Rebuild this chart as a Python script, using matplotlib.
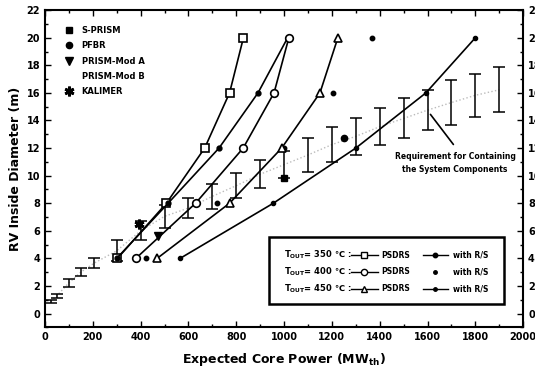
import numpy as np
import matplotlib
matplotlib.use('Agg')
import matplotlib.pyplot as plt
from matplotlib.lines import Line2D
from matplotlib.patches import Rectangle

plt.rcParams['font.family'] = ['DejaVu Sans']
plt.rcParams['font.weight'] = 'bold'
plt.rcParams['mathtext.default'] = 'bf'

# RV inside diameter (m) at which the curves are evaluated
dia = [4, 8, 12, 16, 20]

# expected core power (MWt) for each outlet temperature
p350_psdrs = [303, 508, 668, 772, 830]
p350_rs = [300, 515, 728, 891, 1015]
p400_psdrs = [380, 630, 829, 958, 1020]
p400_rs = [423, 718, 998, 1205, 1368]
p450_psdrs = [469, 772, 990, 1150, 1225]
p450_rs = [565, 955, 1300, 1593, 1800]

# requirement for containing the system components (ranges)
req_power = [25, 50, 100, 150, 205, 300, 400, 500, 600, 700, 800, 900, 1000,
             1100, 1200, 1300, 1400, 1500, 1600, 1700, 1800, 1900]
req_low = [0.75, 1.15, 1.95, 2.7, 3.3, 3.8, 5.3, 6.2, 6.9, 7.6, 8.35, 9.1, 9.8,
           10.3, 11.0, 11.5, 12.2, 12.7, 13.3, 13.7, 14.25, 14.6]
req_high = [1.0, 1.45, 2.5, 3.3, 4.0, 5.3, 6.7, 7.9, 8.4, 9.4, 10.2, 11.1, 11.8,
            12.7, 13.5, 14.2, 14.9, 15.6, 16.2, 16.9, 17.4, 17.85]

# existing reactor designs
reactors = ['S-PRISM', 'PFBR', 'PRISM-Mod A', 'PRISM-Mod B', 'KALIMER']
reactor_power = [1000, 1250, 471, np.nan, 395]
reactor_dia = [9.8, 12.7, 5.6, np.nan, 6.5]
reactor_marker = ['s', 'o', 'v', 'None', (6, 2, 0)]
reactor_ms = [5, 4.5, 6, 0, 7]

fig = plt.figure(figsize=(5.35, 3.75), dpi=100)
ax = fig.add_axes([0.084, 0.127, 0.894, 0.846])

lo = np.array(req_low)
hi = np.array(req_high)
mid = (lo + hi) / 2
ax.plot(req_power, mid, ':', color='#bbbbbb', lw=1, zorder=1)
ax.errorbar(req_power, mid, yerr=[mid - lo, hi - mid], fmt='none', ecolor='k',
            elinewidth=1.1, capsize=4.5, capthick=1.1, zorder=2)

k = dict(color='k', lw=1.2, zorder=3)
ax.plot(p350_psdrs, dia, marker='s', ms=5.5, mfc='white', mec='k', mew=1.2, **k)
ax.plot(p350_rs, dia, marker='o', ms=3.5, mfc='k', mec='k', **k)
ax.plot(p400_psdrs, dia, marker='o', ms=5.5, mfc='white', mec='k', mew=1.2, **k)
ax.plot(p400_rs, dia, ls='None', marker='o', ms=3.2, color='k', zorder=3)
ax.plot(p450_psdrs, dia, marker='^', ms=6, mfc='white', mec='k', mew=1.2, **k)
ax.plot(p450_rs, dia, marker='o', ms=3, mfc='k', mec='k', **k)

handles = []
for i in range(len(reactors)):
    ax.plot(reactor_power[i], reactor_dia[i], ls='None', marker=reactor_marker[i],
            ms=reactor_ms[i], color='k', mew=2 if i == 4 else 1, zorder=4)
    handles.append(Line2D([], [], ls='None', marker=reactor_marker[i],
                          ms=reactor_ms[i], color='k', mew=2 if i == 4 else 1))
ax.legend(handles, reactors, loc='upper left', bbox_to_anchor=(0.035, 0.96),
          frameon=False, fontsize=6, handlelength=1, handletextpad=1.0,
          labelspacing=0.75, borderaxespad=0)

# annotation
ax.annotate('', xy=(1605, 14.6), xytext=(1715, 12.1),
            arrowprops=dict(arrowstyle='-', color='k', lw=1.2))
ax.text(1715, 10.9, 'Requirement for Containing\nthe System Components',
        fontsize=5.5, fontweight='bold', ha='center', va='center', linespacing=1.5)

# framed legend for the curves
ax.add_patch(Rectangle((0.469, 0.075), 0.49, 0.21, transform=ax.transAxes,
                       fill=False, lw=1.8, ec='k', zorder=5))
temps = ['350', '400', '450']
rows_y = [0.228, 0.175, 0.122]
psdrs_m = ['s', 'o', '^']
for t, yy, m in zip(temps, rows_y, psdrs_m):
    ax.text(0.5, yy, r'T$_{OUT}$= ' + t + ' ℃ :', transform=ax.transAxes,
            fontsize=6, va='center')
    ax.plot([0.64, 0.697], [yy, yy], color='k', lw=1, transform=ax.transAxes, zorder=6)
    ax.plot([0.668], [yy], marker=m, ms=4.5, mfc='white', mec='k', mew=1,
            transform=ax.transAxes, zorder=6)
    ax.text(0.703, yy, 'PSDRS', transform=ax.transAxes, fontsize=5.5, va='center')
    ax.text(0.853, yy, 'with R/S', transform=ax.transAxes, fontsize=5.5, va='center')
ax.plot([0.79, 0.843], [0.228, 0.228], color='k', lw=1, transform=ax.transAxes)
ax.plot([0.816], [0.228], marker='o', ms=3.2, color='k', transform=ax.transAxes)
ax.plot([0.816], [0.175], marker='o', ms=2.5, color='k', transform=ax.transAxes)
ax.plot([0.79, 0.843], [0.122, 0.122], color='k', lw=1, transform=ax.transAxes)
ax.plot([0.816], [0.122], marker='o', ms=2.5, color='k', transform=ax.transAxes)

ax.set_xlim(0, 2000)
ax.set_ylim(-1, 22)
ax.set_xticks(np.arange(0, 2001, 200))
ax.set_xticks(np.arange(0, 2001, 100), minor=True)
ax.set_yticks(np.arange(0, 23, 2))
ax.set_yticks(np.arange(-1, 23, 1), minor=True)
ax.tick_params(which='both', direction='in', top=True, right=True,
               labelright=True, labelsize=7, width=1)
ax.tick_params(which='major', length=4)
ax.tick_params(which='minor', length=2.5)
for s in ax.spines.values():
    s.set_linewidth(1.5)

ax.set_xlabel(r'Expected Core Power (MW$_{th}$)', fontsize=9, fontweight='bold', labelpad=6)
ax.set_ylabel('RV Inside Diameter (m)', fontsize=9, fontweight='bold', labelpad=3)

fig.savefig('out.png', dpi=100)
